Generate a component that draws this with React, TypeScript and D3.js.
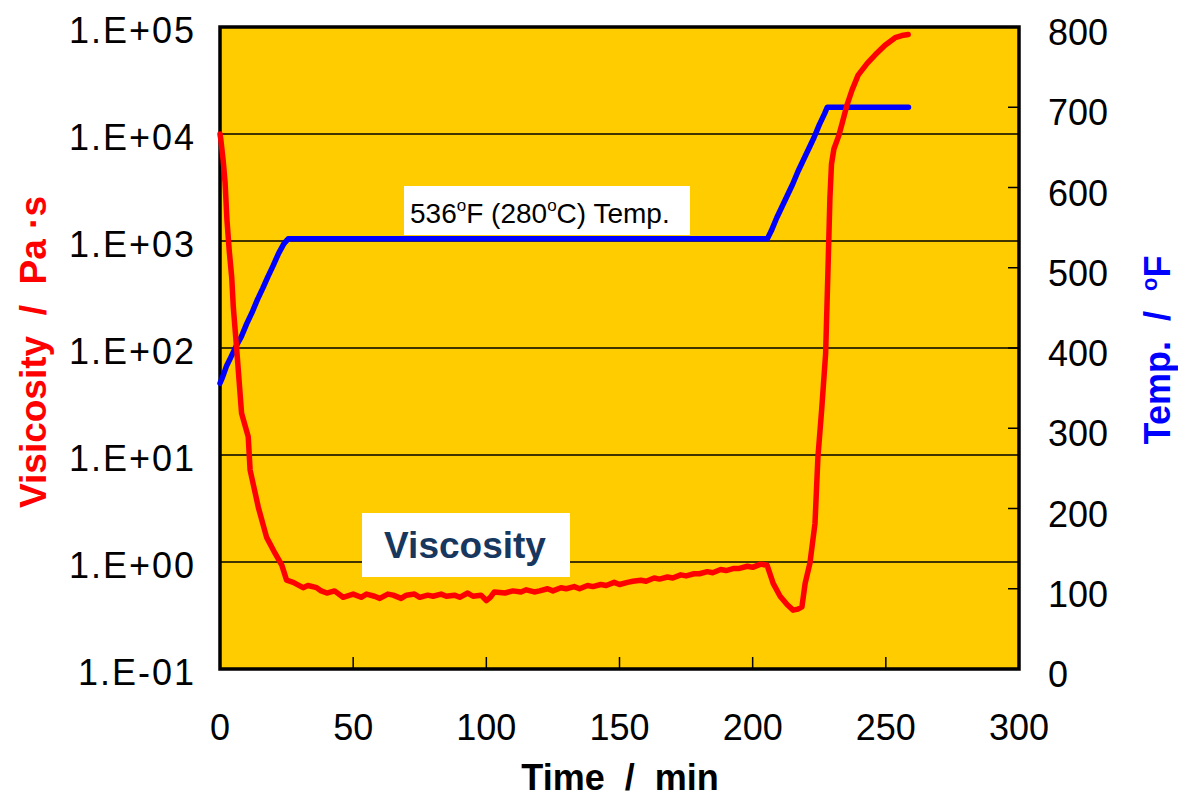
import React from "react";
import * as d3 from "d3";

// Viscosity (Pa·s) vs time (min)
const viscTime = [0, 0.3, 1.2, 1.9, 2.6, 3.5, 4.4, 5.0, 6.3, 8.1, 10.6, 11.3, 14.4, 17.5, 20.7, 23.2, 25.0, 27.5, 31.2, 33, 36.3, 38, 40.1, 43, 46.2, 50, 53, 55, 58, 60, 63, 65, 68, 70, 73, 75, 78, 80, 83, 85, 88, 90, 93, 95, 98, 100, 101.5, 103, 107, 110, 113, 115, 118, 120, 123, 125, 128, 130, 133, 135, 138, 140, 143, 145, 148, 150, 153, 155, 158, 160, 163, 165, 168, 170, 173, 175, 178, 180, 183, 185, 188, 190, 193, 195, 198, 200, 203, 205.4, 207.7, 210.3, 213, 215.2, 217, 218.5, 219.7, 221.5, 223.4, 224.5, 225.9, 227.4, 228.3, 229.0, 229.6, 230.5, 232.4, 233.6, 235.4, 237.3, 239.6, 243, 246, 249.7, 253.5, 256, 258.4];
const viscLog = [4.0, 3.95, 3.75, 3.55, 3.2, 2.9, 2.66, 2.38, 1.98, 1.39, 1.17, 0.86, 0.51, 0.23, 0.08, -0.03, -0.17, -0.19, -0.24, -0.22, -0.24, -0.27, -0.29, -0.27, -0.33, -0.30, -0.33, -0.30, -0.32, -0.34, -0.30, -0.31, -0.34, -0.31, -0.30, -0.33, -0.31, -0.32, -0.30, -0.32, -0.31, -0.33, -0.29, -0.32, -0.31, -0.36, -0.33, -0.28, -0.29, -0.27, -0.28, -0.26, -0.28, -0.27, -0.25, -0.27, -0.24, -0.25, -0.23, -0.25, -0.22, -0.23, -0.21, -0.22, -0.19, -0.21, -0.19, -0.18, -0.17, -0.18, -0.15, -0.16, -0.14, -0.15, -0.12, -0.13, -0.11, -0.11, -0.09, -0.10, -0.07, -0.08, -0.06, -0.06, -0.04, -0.05, -0.02, -0.03, -0.20, -0.32, -0.40, -0.45, -0.44, -0.42, -0.20, -0.01, 0.36, 0.98, 1.42, 1.95, 2.75, 3.4, 3.72, 3.86, 3.99, 4.10, 4.27, 4.41, 4.55, 4.66, 4.74, 4.83, 4.90, 4.92, 4.93];

// Temperature (°F) vs time (min)
const tempTime = [0, 1, 2.5, 4, 6, 8, 10, 12, 14, 16, 18, 20, 22, 24, 25.6, 205.5, 207, 209, 211, 213, 215, 217, 219, 221, 223, 225, 227, 228, 258.5];
const tempVal = [356, 364, 378, 388, 402, 414, 430, 444, 460, 474, 489, 503, 518, 530, 536, 536, 546, 562, 576, 590, 604, 620, 634, 648, 662, 678, 692, 700, 700];

const xTicks = [0, 50, 100, 150, 200, 250, 300];
const yLeftTicks = [1e-1, 1e0, 1e1, 1e2, 1e3, 1e4, 1e5];
const yLeftLabels = ["1.E-01", "1.E+00", "1.E+01", "1.E+02", "1.E+03", "1.E+04", "1.E+05"];
const yRightTicks = [0, 100, 200, 300, 400, 500, 600, 700, 800];

const W = 1178, H = 800;
const L = 220, R = 1019, T = 27, B = 669;
const FONT = "'Liberation Sans', Arial, sans-serif";

export default function App() {
  const x = d3.scaleLinear().domain([0, 300]).range([L, R]);
  const yL = d3.scaleLog().domain([1e-1, 1e5]).range([B, T]);
  const yR = d3.scaleLinear().domain([0, 800]).range([B, T]);

  const viscPts = viscTime.map((t, i) => [t, Math.pow(10, viscLog[i])] as [number, number]);
  const tempPts = tempTime.map((t, i) => [t, tempVal[i]] as [number, number]);

  const viscLine = d3.line<[number, number]>().x(d => x(d[0])).y(d => yL(d[1]));
  const tempLine = d3.line<[number, number]>().x(d => x(d[0])).y(d => yR(d[1]));

  return (
    <svg width={W} height={H} style={{ position: "absolute", left: 0, top: 0 }} fontFamily={FONT}>
      <rect x={0} y={0} width={W} height={H} fill="#fff" />
      <rect x={L} y={T} width={R - L} height={B - T} fill="#FFCC00" />
      {yLeftTicks.slice(1, -1).map(v => (
        <line key={v} x1={L} x2={R} y1={yL(v)} y2={yL(v)} stroke="#000" strokeWidth={1.5} />
      ))}
      {xTicks.slice(1, -1).map(v => (
        <line key={v} x1={x(v)} x2={x(v)} y1={B} y2={B - 12} stroke="#000" strokeWidth={1.5} />
      ))}
      {yRightTicks.slice(1, -1).map(v => (
        <line key={v} x1={R} x2={R - 11} y1={yR(v)} y2={yR(v)} stroke="#000" strokeWidth={1.5} />
      ))}
      <rect x={L} y={T} width={R - L} height={B - T} fill="none" stroke="#000" strokeWidth={3.5} />

      <path d={tempLine(tempPts) || ""} fill="none" stroke="#0000FF" strokeWidth={5.5} strokeLinejoin="round" strokeLinecap="round" />
      <path d={viscLine(viscPts) || ""} fill="none" stroke="#FF0000" strokeWidth={5.5} strokeLinejoin="round" strokeLinecap="round" />

      {/* annotation boxes */}
      <rect x={404} y={186} width={286} height={49} fill="#fff" />
      <text x={410} y={223} fontSize={28} fill="#000">
        536<tspan fontSize={17} dy={-12}>o</tspan><tspan dy={12}>F (280</tspan><tspan fontSize={17} dy={-12}>o</tspan><tspan dy={12}>C) Temp.</tspan>
      </text>
      <rect x={362} y={513} width={208} height={64} fill="#fff" />
      <text x={465} y={558} fontSize={37} fontWeight="bold" fill="#17375E" textAnchor="middle">Viscosity</text>

      {/* left tick labels */}
      {yLeftTicks.map((v, i) => (
        <text key={v} x={196} y={yL(v) + 16} fontSize={36} letterSpacing={2} textAnchor="end" fill="#000">{yLeftLabels[i]}</text>
      ))}
      {/* right tick labels */}
      {yRightTicks.map(v => (
        <text key={v} x={1048} y={yR(v) + 18} fontSize={36} textAnchor="start" fill="#000">{v}</text>
      ))}
      {/* x tick labels */}
      {xTicks.map(v => (
        <text key={v} x={x(v)} y={740} fontSize={36} textAnchor="middle" fill="#000">{v}</text>
      ))}

      <text x={620} y={790} fontSize={36} fontWeight="bold" textAnchor="middle" fill="#000" style={{ whiteSpace: "pre" }}>{"Time  /  min"}</text>
      <text transform={`translate(46,352) rotate(-90)`} fontSize={37} fontWeight="bold" textAnchor="middle" fill="#FF0000" style={{ whiteSpace: "pre" }}>{"Visicosity  /  Pa ·s"}</text>
      <text transform={`translate(1170,350) rotate(-90)`} fontSize={36} fontWeight="bold" textAnchor="middle" fill="#0000FF" style={{ whiteSpace: "pre" }}>
        {"Temp.  /  "}<tspan fontSize={22} dy={-13}>o</tspan><tspan dy={13}>F</tspan>
      </text>
    </svg>
  );
}
